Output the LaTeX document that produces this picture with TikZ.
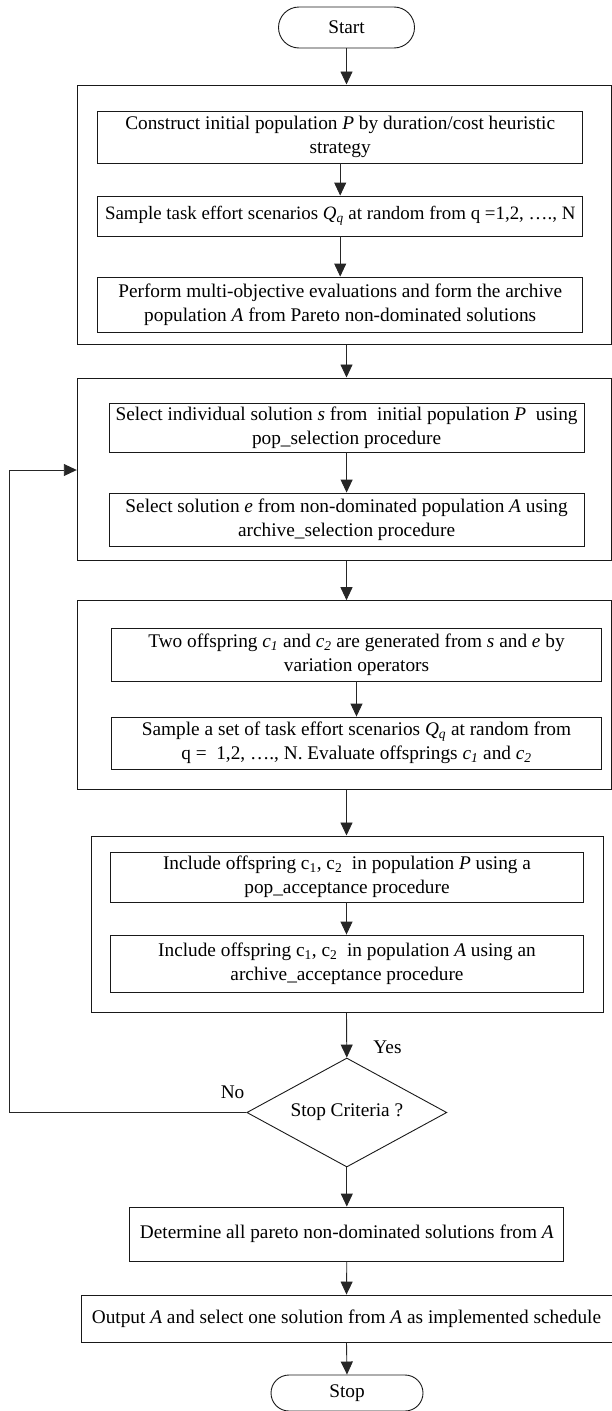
\documentclass[tikz,border=0pt]{standalone}
\usepackage{fontspec}
\setmainfont{Liberation Serif}
\usetikzlibrary{shapes.misc,shapes.geometric,arrows.meta}
\newcommand{\itx}[1]{\textit{#1}}
\newcommand{\sbi}[2]{\textit{#1}\textsubscript{\textit{#2}}}
\tikzset{
  every picture/.style={x=1pt,y=1pt},
  txt/.style={font=\fontsize{19.3pt}{24pt}\selectfont},
  line/.style={draw=black!85, line width=0.9pt},
  arr/.style={line, -{Triangle[length=13pt,width=12pt]}},
  outerbox/.style={draw=black!90, line width=1pt, rectangle, inner sep=0pt},
  procbox/.style={draw=black!90, line width=0.9pt, rectangle, inner sep=0pt, align=center, txt},
  term/.style={draw=black!90, line width=0.9pt, rounded rectangle, inner sep=0pt, txt},
  decision/.style={draw=black!90, line width=0.9pt, diamond, aspect=1.835, inner sep=0pt, txt},
  lbl/.style={inner sep=0pt, txt}
}
\begin{document}
\begin{tikzpicture}
\useasboundingbox (0,0) rectangle (612,-1411);
% terminals
\node[term, minimum width=136pt, minimum height=41pt] (start) at (346.5,-27.5) {Start};
\node[term, minimum width=152pt, minimum height=36pt] (stop) at (347,-1393) {Stop};
% outer boxes
\node[outerbox, minimum width=533.7pt, minimum height=259pt] (O1) at (344.15,-214.5) {};
\node[outerbox, minimum width=533.7pt, minimum height=182pt] (O2) at (344.15,-469) {};
\node[outerbox, minimum width=533.7pt, minimum height=188.3pt] (O3) at (344.15,-694.85) {};
\node[outerbox, minimum width=512pt, minimum height=176pt] (O4) at (347,-924) {};
% inner boxes
\node[procbox, minimum width=485pt, minimum height=52pt] (B1) at (340.2,-137) {Construct initial population \itx{P} by duration/cost heuristic\\strategy};
\node[procbox, minimum width=485pt, minimum height=40pt] (B2) at (340.2,-216) {\fontsize{18.9pt}{24pt}\selectfont Sample task effort scenarios \sbi{Q}{q} at random from q =1,2, …., N};
\node[procbox, minimum width=485pt, minimum height=55pt] (B3) at (340.2,-304.5) {Perform multi-objective evaluations and form the archive\\population \itx{A} from Pareto non-dominated solutions};
\node[procbox, minimum width=475pt, minimum height=49pt] (B4) at (346.6,-427.5) {Select individual solution \itx{s} from \ initial population \itx{P} \ using\\pop\_selection procedure};
\node[procbox, minimum width=475pt, minimum height=53pt] (B5) at (346.6,-519.5) {Select solution \itx{e} from non-dominated population \itx{A} using\\archive\_selection procedure};
\node[procbox, minimum width=490pt, minimum height=53pt] (B6) at (356.5,-654.5) {Two offspring \sbi{c}{1} and \sbi{c}{2} are generated from \itx{s} and \itx{e} by\\variation operators};
\node[procbox, minimum width=490pt, minimum height=52pt] (B7) at (356.5,-743) {Sample a set of task effort scenarios \sbi{Q}{q} at random from\\q = \ 1,2, …., N. Evaluate offsprings \sbi{c}{1} and \sbi{c}{2}};
\node[procbox, minimum width=473pt, minimum height=50pt] (B8) at (347,-877) {Include offspring c\textsubscript{1}, c\textsubscript{2} \ in population \itx{P} using a\\pop\_acceptance procedure};
\node[procbox, minimum width=473pt, minimum height=57pt] (B9) at (347,-963.5) {Include offspring c\textsubscript{1}, c\textsubscript{2} \ in population \itx{A} using an\\archive\_acceptance procedure};
\node[decision, minimum width=200pt, minimum height=109pt] (D) at (346.8,-1112.5) {Stop Criteria ?};
\node[procbox, minimum width=434pt, minimum height=54pt] (B10) at (346.8,-1234) {Determine all pareto non-dominated solutions from \itx{A}};
\node[procbox, minimum width=531pt, minimum height=47pt] (B11) at (346.5,-1318.5) {Output \itx{A} and select one solution from \itx{A} as implemented schedule};
% labels
\node[lbl] (yes) at (387.5,-1047) {Yes};
\node[lbl] (no) at (232.6,-1092) {No};
\coordinate (fbl) at (9.8,-1112.5);
\coordinate (fbt) at (9.8,-470);
% connectors
\draw[arr] (start.south) -- (start.south |- O1.north);
\draw[arr] (B1.south) -- (B2.north);
\draw[arr] (B2.south) -- (B3.north);
\draw[arr] (start.south |- O1.south) -- (start.south |- O2.north);
\draw[arr] (B4.south) -- (B5.north);
\draw[arr] (start.south |- O2.south) -- (start.south |- O3.north);
\draw[arr] (B6.south) -- (B7.north);
\draw[arr] (start.south |- O3.south) -- (start.south |- O4.north);
\draw[arr] (B8.south -| start.south) -- (B9.north -| start.south);
\draw[arr] (start.south |- O4.south) -- (D.north);
\draw[arr] (D.south) -- (B10.north);
\draw[arr] (B10.south) -- (B11.north);
\draw[arr] (B11.south) -- (stop.north);
\draw[arr] (D.west) -- (fbl) -- (fbt) -- (fbt -| O2.west);
\end{tikzpicture}
\end{document}
